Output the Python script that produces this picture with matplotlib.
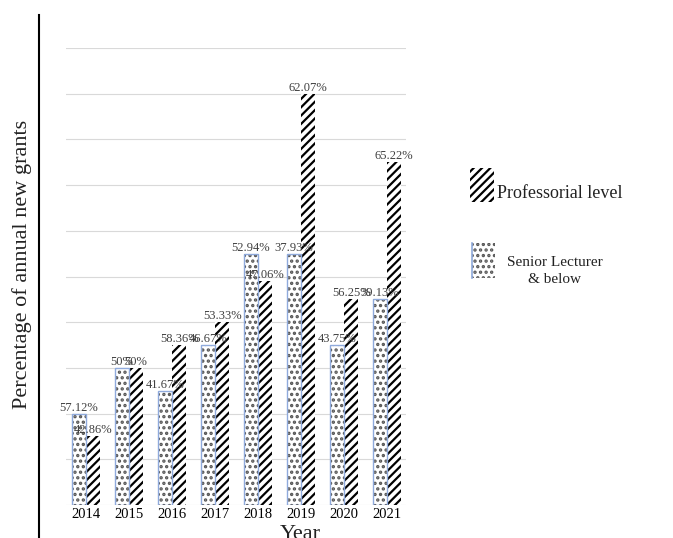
import numpy as np
import matplotlib.pyplot as plt
import matplotlib.patches as mpatches
from matplotlib.lines import Line2D

plt.rcParams['font.family'] = ['Liberation Serif', 'DejaVu Serif']
plt.rcParams['hatch.linewidth'] = 1.6

# Data (bar heights on a 0-100 grid, printed labels kept as-is)
years = ['2014', '2015', '2016', '2017', '2018', '2019', '2020', '2021']
senior_heights = [20, 30, 25, 35, 55, 55, 35, 45]
prof_heights = [15, 30, 35, 40, 49, 90, 45, 75]
senior_labels = ['57.12%', '50%', '41.67%', '46.67%', '52.94%', '37.93%', '43.75%', '39.13%']
prof_labels = ['42.86%', '50%', '58.36%', '53.33%', '47.06%', '62.07%', '56.25%', '65.22%']

W, H = 673, 538
fig = plt.figure(figsize=(W / 100, H / 100), dpi=100, facecolor='white')
ax = fig.add_axes([66 / W, 1 - 505 / H, 340 / W, 457 / H])

x = np.arange(len(years))
bw = 0.33
blue = '#8faadc'

# Senior lecturer bars: dotted fill, thin blue outline
ax.bar(x - bw / 2, senior_heights, bw, color='white', hatch='...',
       edgecolor='#555555', linewidth=0, zorder=2)
ax.bar(x - bw / 2, senior_heights, bw, fill=False, edgecolor=blue,
       linewidth=1.0, zorder=3)
# Professorial bars: heavy diagonal stripes
ax.bar(x + bw / 2, prof_heights, bw, color='white', hatch='////',
       edgecolor='black', linewidth=0, zorder=2)

for i in range(len(years)):
    ax.text(x[i] - bw / 2, senior_heights[i], senior_labels[i], ha='center',
            va='bottom', fontsize=9, color='#404040', zorder=4)
    ax.text(x[i] + bw / 2, prof_heights[i], prof_labels[i], ha='center',
            va='bottom', fontsize=9, color='#404040', zorder=4)

ax.set_xlim(-0.465, 7.44)
ax.set_ylim(0, 100)
ax.set_yticks(np.arange(0, 101, 10))
ax.set_yticklabels([])
ax.tick_params(axis='y', length=0)
ax.tick_params(axis='x', length=0, labelsize=10.5, pad=2)
ax.set_xticks(x)
ax.set_xticklabels(years)
ax.grid(axis='y', color='#d9d9d9', linewidth=0.8, zorder=0)
ax.set_axisbelow(True)
for s in ax.spines.values():
    s.set_visible(False)

# Axis titles
fig.text(22 / W, 1 - 264 / H, 'Percentage of annual new grants', rotation=90,
         ha='center', va='center', fontsize=16, color='#222222')
fig.text(300 / W, 1 - 525 / H, 'Year', ha='center', va='top', fontsize=16,
         color='#222222')

# Stray vertical rule on the left
fig.add_artist(Line2D([39 / W, 39 / W], [0, 1 - 15 / H], color='black',
                      linewidth=1.5))

# Hand-built legend on the right
fig.add_artist(mpatches.Rectangle((470 / W, 1 - 202 / H), 24 / W, 34 / H,
                                  transform=fig.transFigure, facecolor='white',
                                  hatch='////', edgecolor='black', linewidth=0))
fig.text(497 / W, 1 - 194 / H, 'Professorial level', ha='left', va='center',
         fontsize=13, color='#222222')
fig.add_artist(mpatches.Rectangle((472 / W, 1 - 278 / H), 23 / W, 35 / H,
                                  transform=fig.transFigure, facecolor='white',
                                  hatch='...', edgecolor='#555555', linewidth=0))
fig.add_artist(Line2D([472 / W, 472 / W], [1 - 278 / H, 1 - 243 / H],
                      color=blue, linewidth=1.2))
fig.text(555 / W, 1 - 271 / H, 'Senior Lecturer\n& below', ha='center',
         va='center', fontsize=11, color='#222222', linespacing=1.35)

fig.savefig('out.png', dpi=100)
